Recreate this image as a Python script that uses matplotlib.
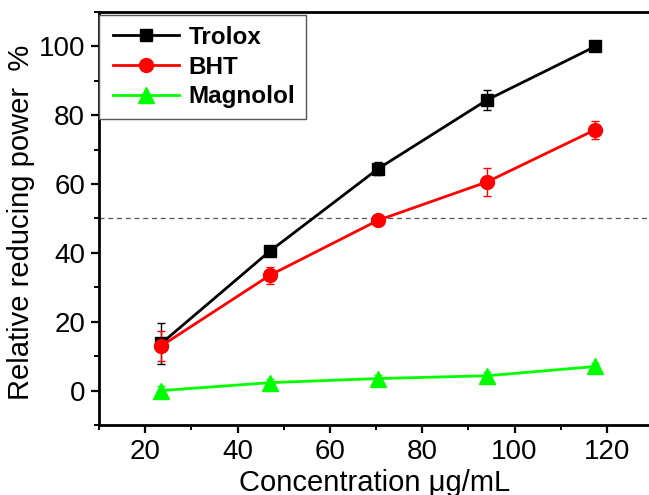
import numpy as np
import matplotlib.pyplot as plt
from matplotlib.ticker import MultipleLocator
from matplotlib.legend_handler import HandlerLine2D
from matplotlib.lines import Line2D

plt.rcParams['font.family'] = ['Liberation Sans', 'DejaVu Sans']

conc = [23.5, 47, 70.5, 94, 117.5]
trolox = [13.7, 40.5, 64.5, 84.4, 100.0]
trolox_err = [6.0, 1.0, 1.8, 2.9, 0.0]
bht = [13.0, 33.5, 49.5, 60.6, 75.8]
bht_err = [4.3, 2.5, 0.8, 4.2, 2.6]
magnolol = [0.0, 2.3, 3.5, 4.3, 7.0]
magnolol_err = [1.2, 1.0, 1.0, 1.0, 1.0]

fig = plt.figure(figsize=(6.49, 4.95), dpi=100)
# axes runs a little past the right edge of the figure (right spine cut off)
ax = fig.add_axes([99/649, 70/495, 554/649, 413/495])

# reference line at 50 %
ax.axhline(50, color='#555555', lw=0.9, ls=(0, (4, 3)), zorder=1)

series = [
    ('Trolox', trolox, trolox_err, 'black', 's', 9),
    ('BHT', bht, bht_err, '#ff0000', 'o', 10),
    ('Magnolol', magnolol, magnolol_err, '#00ff00', '^', 11),
]
handles = []
for name, vals, err, col, mk, ms in series:
    ax.errorbar(conc, vals, yerr=err, fmt='none', ecolor=col,
                elinewidth=1, capsize=3, capthick=1, zorder=3)
    h, = ax.plot(conc, vals, color=col, marker=mk, ms=ms, lw=2,
                 label=name, zorder=4)
    handles.append(h)

ax.set_xlim(10, 130)
ax.set_ylim(-10, 110)
ax.xaxis.set_minor_locator(MultipleLocator(10))
ax.yaxis.set_major_locator(MultipleLocator(20))
ax.yaxis.set_minor_locator(MultipleLocator(10))
ax.set_xticks([20, 40, 60, 80, 100, 120])
ax.tick_params(which='major', direction='out', length=6, width=1.6,
               labelsize=20, pad=4)
ax.tick_params(which='minor', direction='out', length=3.5, width=1.4)
for s in ax.spines.values():
    s.set_linewidth(2)

ax.set_xlabel('Concentration μg/mL', fontsize=21)
ax.xaxis.set_label_coords(0.498, -0.106)
ax.set_ylabel('Relative reducing power  %', fontsize=21)
ax.yaxis.set_label_coords(-0.115, 0.49)

leg = ax.legend(handles=handles, loc='upper left',
                bbox_to_anchor=(0.0, 0.993), fancybox=False,
                frameon=True, edgecolor='#555555', framealpha=1,
                prop={'weight': 'bold', 'size': 17.5}, handlelength=2.86,
                borderaxespad=0.0, labelspacing=0.28, handletextpad=0.37,
                borderpad=0.45,
                handler_map={Line2D: HandlerLine2D(xpad=0.13)})
leg.get_frame().set_linewidth(1)

fig.savefig('out.png', dpi=100)
